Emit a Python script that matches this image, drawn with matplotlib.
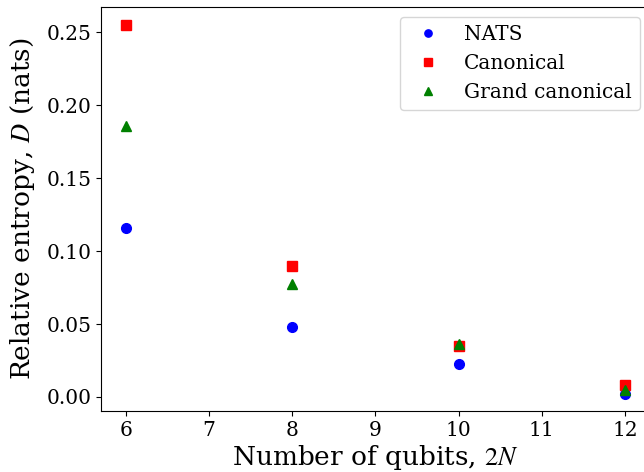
import matplotlib
matplotlib.use('Agg')
import matplotlib.pyplot as plt

# data
qubits = [6, 8, 10, 12]
nats = [0.1158, 0.0479, 0.0226, 0.0020]
canonical = [0.2548, 0.0897, 0.0349, 0.0082]
grand_canonical = [0.1856, 0.0774, 0.0363, 0.0048]

plt.rcParams['font.family'] = 'DejaVu Serif'
plt.rcParams['mathtext.fontset'] = 'stix'

fig = plt.figure(figsize=(6.44, 4.72), dpi=100)
ax = fig.add_axes([101 / 644, 61 / 472, 549 / 644, 404 / 472])

ax.plot(qubits, nats, 'o', color='blue', markersize=7, label='NATS')
ax.plot(qubits, canonical, 's', color='red', markersize=7, label='Canonical')
ax.plot(qubits, grand_canonical, '^', color='green', markersize=7, label='Grand canonical')

ax.set_xlim(5.7, 12.3)
ax.set_ylim(-0.0096, 0.2674)
ax.set_xticks(range(6, 13))
ax.set_yticks([0.0, 0.05, 0.10, 0.15, 0.20, 0.25])
ax.tick_params(labelsize=14.5)
ax.set_xlabel('Number of qubits, $2N$', fontsize=19, labelpad=2)
ax.set_ylabel('Relative entropy, $D$ (nats)', fontsize=19, labelpad=7)
ax.legend(loc='upper right', bbox_to_anchor=((640 - 101) / 549, 1 - 10 / 404),
          fontsize=14.5, markerscale=0.75, borderaxespad=0.0)

fig.savefig('out.png', dpi=100)
